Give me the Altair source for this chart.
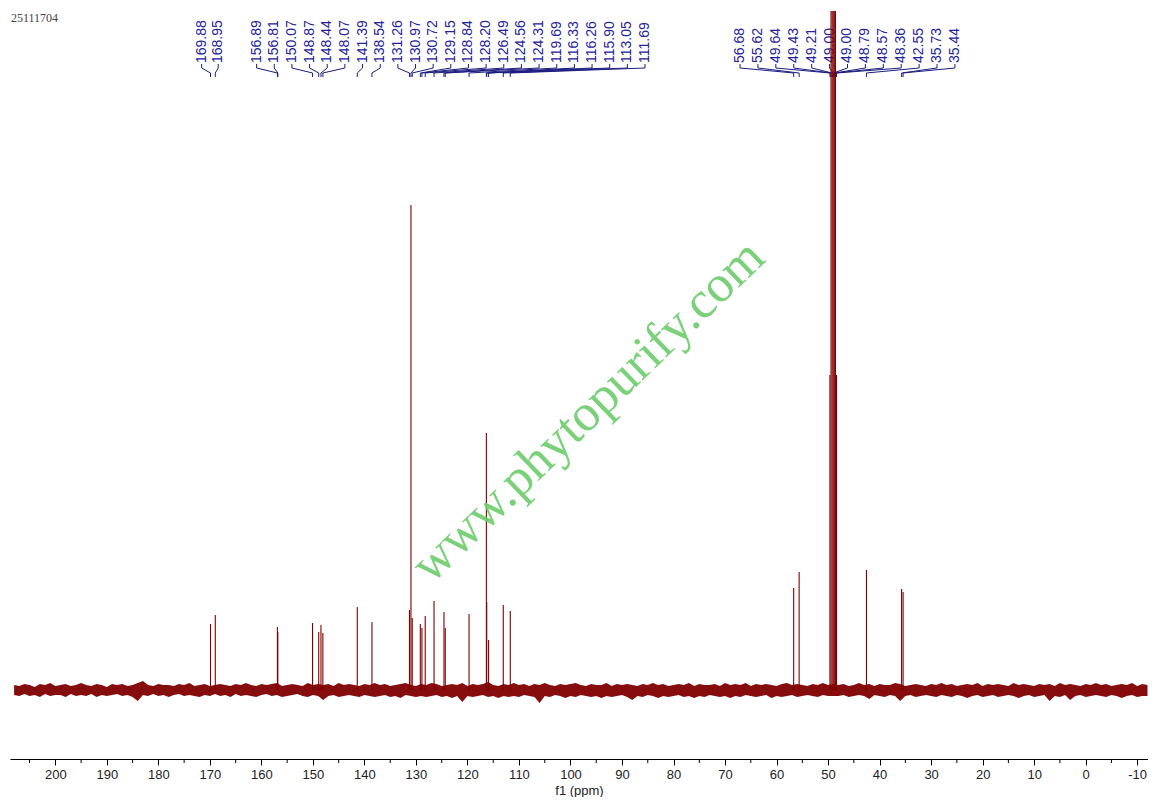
import altair as alt
import pandas as pd
import numpy as np

# ---------------- data ----------------
peak_ppm = [169.88, 168.95, 156.89, 156.81, 150.07, 148.87, 148.44, 148.07, 141.39, 138.54,
            131.26, 130.97, 130.72, 129.15, 128.84, 128.20, 126.49, 124.56, 124.31, 119.69,
            116.33, 116.26, 115.90, 113.05, 111.69,
            56.68, 55.62, 49.64, 49.43, 49.21, 49.00, 48.79, 48.57, 48.36, 42.55, 35.73, 35.44]
peak_height = [66, 75, 63, 58, 67, 58, 65, 57, 83, 68,
               80, 485, 72, 66, 62, 74, 89, 78, 62, 76,
               257, 88, 50, 85, 79,
               102, 118, 315, 1000, 1000, 1000, 1000, 1000, 315, 120, 101, 98]

labels_a = ["169.88", "168.95"]
labels_b = ["156.89", "156.81", "150.07", "148.87", "148.44", "148.07", "141.39", "138.54",
            "131.26", "130.97", "130.72", "129.15", "128.84", "128.20", "126.49", "124.56",
            "124.31", "119.69", "116.33", "116.26", "115.90", "113.05", "111.69"]
labels_c = ["56.68", "55.62", "49.64", "49.43", "49.21", "49.00", "49.00", "48.79", "48.57",
            "48.36", "42.55", "35.73", "35.44"]

# baseline noise envelope, one value per ppm from 208 down to -12
noise_upper = [5, 4, 6, 5, 3, 6, 5, 7, 4, 5, 6, 4, 5, 7, 5, 4, 6, 5, 3, 6,
               5, 6, 4, 5, 7, 9, 5, 4, 6, 5, 5, 4, 6, 5, 7, 4, 5, 6, 4, 5,
               6, 5, 4, 6, 5, 7, 5, 4, 6, 5, 6, 7, 4, 5, 6, 5, 4, 7, 5, 6,
               5, 6, 4, 7, 5, 6, 5, 4, 6, 5, 7, 5, 6, 4, 5, 6, 7, 5, 4, 6,
               5, 7, 6, 4, 5, 6, 5, 7, 4, 6, 5, 6, 8, 5, 4, 6, 5, 7, 5, 6,
               4, 6, 5, 7, 5, 4, 6, 5, 6, 7, 5, 4, 6, 5, 5, 7, 4, 6, 5, 6,
               5, 4, 6, 5, 7, 5, 6, 4, 5, 6, 5, 7, 4, 6, 5, 5, 6, 4, 7, 5,
               6, 5, 7, 4, 6, 5, 6, 5, 4, 6, 7, 5, 6, 5, 4, 6, 5, 7, 5, 6,
               5, 6, 4, 5, 7, 5, 6, 4, 6, 5, 5, 7, 6, 4, 5, 6, 5, 4, 6, 5,
               7, 5, 6, 4, 5, 6, 5, 7, 4, 6, 5, 6, 5, 4, 7, 5, 6, 5, 4, 6,
               5, 6, 4, 7, 5, 6, 5, 4, 6, 5, 7, 5, 6, 4, 5, 6, 5, 7, 4, 6,
               5]
noise_lower = [-5, -6, -4, -6, -5, -7, -4, -6, -5, -5, -7, -4, -6, -5, -6, -4, -7, -5, -6, -5,
               -4, -6, -5, -7, -11, -5, -6, -4, -6, -5, -7, -5, -4, -6, -5, -6, -7, -5, -6, -4,
               -6, -5, -7, -4, -6, -5, -6, -7, -5, -4, -6, -5, -7, -6, -5, -4, -6, -7, -5, -6,
               -10, -6, -5, -7, -6, -5, -6, -7, -5, -6, -7, -6, -5, -7, -6, -8, -5, -6, -7, -6,
               -7, -6, -5, -7, -6, -8, -6, -12, -6, -7, -6, -5, -7, -6, -8, -6, -7, -6, -7, -5,
               -6, -7, -13, -6, -7, -5, -6, -8, -6, -7, -5, -6, -7, -6, -8, -6, -7, -6, -5, -7,
               -10, -6, -7, -5, -6, -8, -6, -7, -6, -5, -7, -6, -8, -6, -7, -5, -6, -7, -6, -8,
               -6, -7, -5, -6, -7, -6, -5, -8, -6, -7, -6, -5, -7, -6, -5, -6, -7, -5, -6, -6,
               -6, -5, -7, -6, -5, -6, -9, -5, -6, -7, -5, -6, -11, -6, -5, -7, -6, -5, -6, -7,
               -5, -6, -7, -5, -6, -8, -6, -5, -7, -6, -5, -7, -6, -5, -6, -8, -6, -5, -7, -6,
               -5, -11, -6, -7, -5, -10, -6, -5, -7, -6, -5, -6, -7, -5, -6, -8, -6, -5, -7, -6,
               -6]
noise_start, noise_step = 208.0, 1.0

major_ticks = list(range(-10, 201, 10))
minor_ticks = list(range(-5, 206, 10))

# ---------------- layout ----------------
W, H = 1138, 748
X_DOMAIN = [-12.1, 208.8]
Y_DOMAIN = [-69, 679]   # 1 unit = 1 px, baseline at 0
SPEC = "#800000"
LBL = "#23239a"
LINE = "#1c1c80"

xscale = alt.Scale(domain=X_DOMAIN, reverse=True, nice=False, zero=False)
yscale = alt.Scale(domain=Y_DOMAIN, nice=False, zero=False)
xaxis = alt.Axis(values=major_ticks, labelExpr="'' + datum.value", tickSize=6,
                 labelFont="Liberation Sans", labelFontSize=13, labelColor="#222222",
                 title="f1 (ppm)", titleFont="Liberation Sans", titleFontSize=13,
                 titleFontWeight="normal", titleColor="#222222", titlePadding=3,
                 labelPadding=3, domainColor="black", tickColor="black", grid=False,
                 labelFlush=False, labelOverlap=False)


def X(field="ppm"):
    return alt.X(f"{field}:Q", scale=xscale, axis=xaxis)


def Y(field):
    return alt.Y(f"{field}:Q", scale=yscale, axis=None)


# label layout (label slot positions in ppm)
groups = [(labels_a, 171.6, 3.22), (labels_b, 160.93, 3.427), (labels_c, 67.09, 3.476)]
lab_rows, con_rows = [], []
k = 0
for labs, start, step in groups:
    for j, t in enumerate(labs):
        lx = start - j * step
        px = float(t)
        lab_rows.append({"ppm": lx, "y": 627, "text": t})
        for o, (xx, yy) in enumerate([(lx, 626), (lx, 622), (px, 617), (px, 613)]):
            con_rows.append({"id": k, "o": o, "ppm": xx, "y": yy})
        k += 1
lab_df = pd.DataFrame(lab_rows)
con_df = pd.DataFrame(con_rows)

peaks_df = pd.DataFrame({"ppm": peak_ppm, "h": peak_height, "base": 0})
noise_df = pd.DataFrame({
    "ppm": noise_start - noise_step * np.arange(len(noise_upper)),
    "hi": noise_upper, "lo": noise_lower})
minor_df = pd.DataFrame({"ppm": minor_ticks})

connectors = alt.Chart(con_df).mark_line(color=LINE, strokeWidth=1).encode(
    x=X(), y=Y("y"), detail="id:N", order="o:Q")
labels = alt.Chart(lab_df).mark_text(angle=270, align="left", baseline="middle",
                                     font="Liberation Sans", fontSize=14, color=LBL).encode(
    x=X(), y=Y("y"), text="text:N")
band = alt.Chart(noise_df).mark_area(color=SPEC, opacity=0.95).encode(
    x=X(), y=Y("lo"), y2="hi:Q")
peaks = alt.Chart(peaks_df).mark_rule(color=SPEC, strokeWidth=1.1, clip=True).encode(
    x=X(), y=Y("base"), y2="h:Q")
minor = alt.Chart(minor_df).mark_rule(color="black", strokeWidth=1).encode(
    x=X(), y=alt.value(H), y2=alt.value(H + 4))
watermark = alt.Chart(pd.DataFrame({"t": ["www.phytopurify.com"]})).mark_text(
    angle=316, align="center", baseline="middle", font="Liberation Serif",
    fontSize=52, color="#6ccd6c", opacity=0.9).encode(
    x=alt.value(578), y=alt.value(400), text="t:N")
stamp = alt.Chart(pd.DataFrame({"t": ["25111704"]})).mark_text(
    align="left", baseline="middle", font="Liberation Serif", fontSize=12,
    color="#444444").encode(x=alt.value(1), y=alt.value(7), text="t:N")

chart = alt.layer(connectors, labels, band, peaks, minor, watermark, stamp).properties(
    width=W, height=H, padding={"left": 2, "top": 3, "right": 0, "bottom": 0}
).configure_view(stroke=None)

chart.save("out.html", embed_options={"renderer": "svg", "actions": False})
